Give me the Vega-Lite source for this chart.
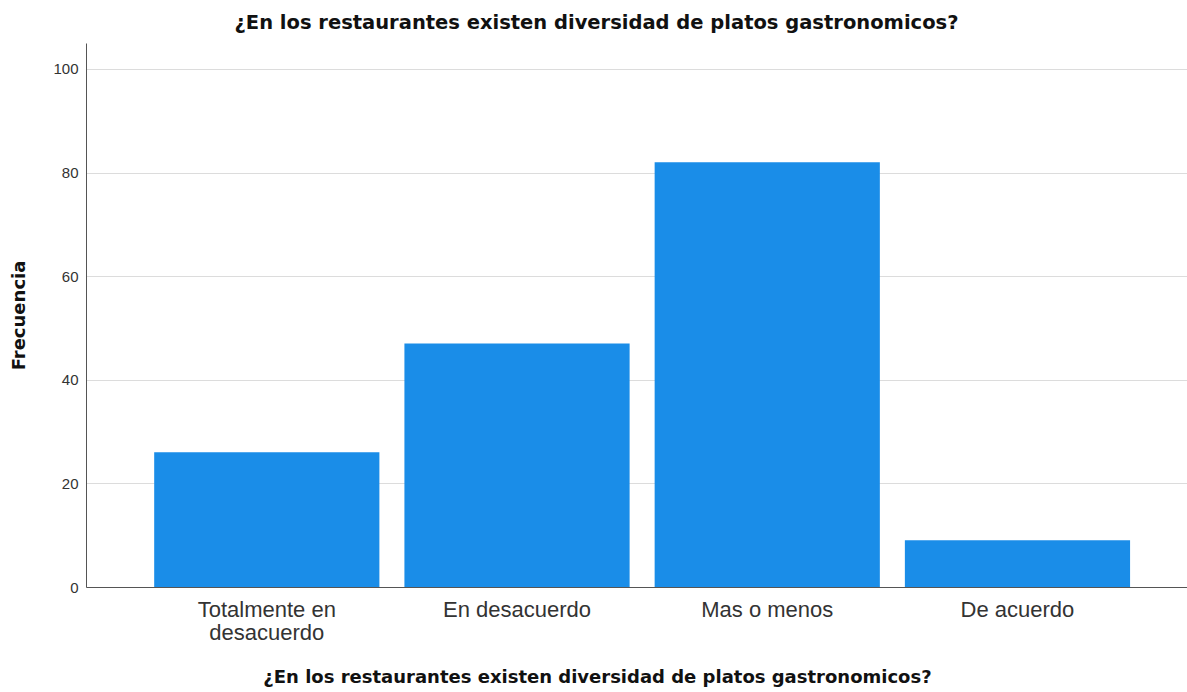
{
  "$schema": "https://vega.github.io/schema/vega-lite/v6.json",
  "autosize": "none",
  "width": 1101,
  "height": 544,
  "padding": {"left": 86, "top": 43, "right": 0, "bottom": 105},
  "background": "white",
  "title": {
    "text": "¿En los restaurantes existen diversidad de platos gastronomicos?",
    "font": "DejaVu Sans",
    "fontSize": 19.5,
    "fontWeight": "bold",
    "color": "#111111",
    "anchor": "middle",
    "dx": -40,
    "offset": 10
  },
  "data": {
    "values": [
      {"respuesta": "Totalmente en desacuerdo", "frecuencia": 26},
      {"respuesta": "En desacuerdo", "frecuencia": 47},
      {"respuesta": "Mas o menos", "frecuencia": 82},
      {"respuesta": "De acuerdo", "frecuencia": 9}
    ]
  },
  "mark": {"type": "bar", "color": "#1a8de8"},
  "encoding": {
    "x": {
      "field": "respuesta",
      "type": "nominal",
      "sort": null,
      "scale": {"paddingInner": 0.1, "paddingOuter": 0.25, "align": 0.545},
      "axis": {
        "title": "¿En los restaurantes existen diversidad de platos gastronomicos?",
        "titleFont": "DejaVu Sans",
        "titleFontSize": 18,
        "titleFontWeight": "bold",
        "titleColor": "#111111",
        "titlePadding": 25,
        "titleX": 511,
        "labelAngle": 0,
        "labelFont": "Liberation Sans",
        "labelFontSize": 22,
        "labelColor": "#333333",
        "labelPadding": 12,
        "labelLimit": 400,
        "labelLineHeight": 23,
        "labelExpr": "datum.label == 'Totalmente en desacuerdo' ? ['Totalmente en', 'desacuerdo'] : datum.label",
        "ticks": false,
        "domainColor": "#555555",
        "domainWidth": 1
      }
    },
    "y": {
      "field": "frecuencia",
      "type": "quantitative",
      "scale": {"domain": [0, 105], "nice": false},
      "axis": {
        "title": "Frecuencia",
        "titleFont": "DejaVu Sans",
        "titleFontSize": 18,
        "titleFontWeight": "bold",
        "titleColor": "#111111",
        "titlePadding": 24,
        "values": [0, 20, 40, 60, 80, 100],
        "labelFont": "Liberation Sans",
        "labelFontSize": 15,
        "labelColor": "#333333",
        "labelPadding": 8,
        "ticks": false,
        "grid": true,
        "gridColor": "#dcdcdc",
        "domainColor": "#555555"
      }
    }
  },
  "config": {"view": {"stroke": null}}
}
